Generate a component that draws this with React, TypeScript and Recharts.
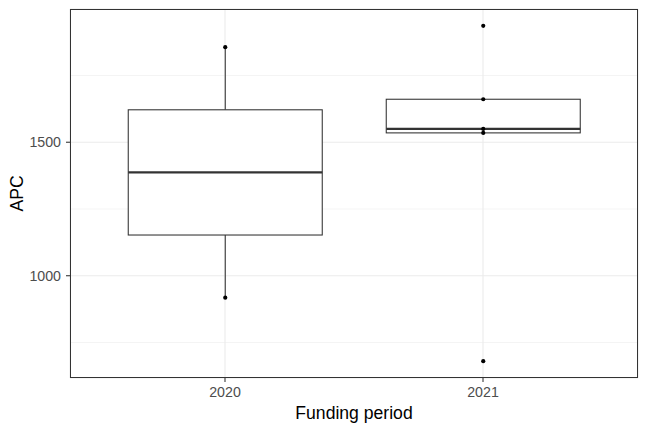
import React from 'react';
import { ComposedChart, Bar, XAxis, YAxis, CartesianGrid } from 'recharts';

const periods = ['2020', '2021'];
const apc2020 = [918, 1856];
const apc2021 = [680, 1535, 1550, 1661, 1936];
const yTicks = [1000, 1500];
const yMinor = [750, 1250, 1750];

const FONT = '"Liberation Sans", Arial, Helvetica, sans-serif';

function quantile(sorted: number[], p: number) {
  const h = (sorted.length - 1) * p;
  const lo = Math.floor(h);
  const hi = Math.ceil(h);
  return sorted[lo] + (h - lo) * (sorted[hi] - sorted[lo]);
}

function boxStats(period: string, values: number[]) {
  const s = [...values].sort((a, b) => a - b);
  const q1 = quantile(s, 0.25);
  const med = quantile(s, 0.5);
  const q3 = quantile(s, 0.75);
  const iqr = q3 - q1;
  const inside = s.filter((v) => v >= q1 - 1.5 * iqr && v <= q3 + 1.5 * iqr);
  return {
    period,
    q1,
    med,
    q3,
    wLo: Math.min(...inside),
    wHi: Math.max(...inside),
    lo: s[0],
    hi: s[s.length - 1],
    points: s,
    range: [s[0], s[s.length - 1]],
  };
}

const data = [boxStats(periods[0], apc2020), boxStats(periods[1], apc2021)];

const BoxShape = (props: any) => {
  const { x, y, width, height, payload } = props;
  const top = Math.min(y, y + height);
  const bottom = Math.max(y, y + height);
  const { lo, hi } = payload;
  const py = (v: number) => bottom - ((v - lo) / (hi - lo)) * (bottom - top);
  const cx = x + width / 2;
  const stroke = '#333333';
  return (
    <g>
      <line x1={cx} x2={cx} y1={py(payload.wHi)} y2={py(payload.q3)} stroke={stroke} strokeWidth={1.07} />
      <line x1={cx} x2={cx} y1={py(payload.q1)} y2={py(payload.wLo)} stroke={stroke} strokeWidth={1.07} />
      <rect
        x={x}
        y={py(payload.q3)}
        width={width}
        height={py(payload.q1) - py(payload.q3)}
        fill="#FFFFFF"
        stroke={stroke}
        strokeWidth={1.07}
      />
      <line x1={x} x2={x + width} y1={py(payload.med)} y2={py(payload.med)} stroke={stroke} strokeWidth={2.1} />
      {payload.points.map((v: number, i: number) => (
        <circle key={i} cx={cx} cy={py(v)} r={2.1} fill="#000000" />
      ))}
    </g>
  );
};

export default function App() {
  return (
    <div style={{ position: 'absolute', left: 0, top: 0, width: 648, height: 432, background: '#FFFFFF' }}>
      <ComposedChart
        width={648}
        height={432}
        data={data}
        margin={{ top: 9, right: 10, bottom: 0, left: 0 }}
        barCategoryGap="12.5%"
      >
        <CartesianGrid
          horizontalValues={yMinor}
          vertical={false}
          stroke="#EBEBEB"
          strokeWidth={0.55}
        />
        <CartesianGrid stroke="#EBEBEB" strokeWidth={1.07} />
        <XAxis
          dataKey="period"
          type="category"
          padding={{ left: 26, right: 26 }}
          height={54}
          axisLine={false}
          tickLine={{ stroke: '#333333', strokeWidth: 1.07 }}
          tickSize={4}
          tickMargin={5}
          tick={{ fill: '#4D4D4D', fontSize: 14.2, fontFamily: FONT }}
          label={{
            value: 'Funding period',
            position: 'insideBottom',
            offset: 12.7,
            style: { fill: '#000000', fontSize: 17.6, fontFamily: FONT },
          }}
        />
        <YAxis
          type="number"
          domain={[617, 1999]}
          ticks={yTicks}
          allowDataOverflow
          width={70}
          axisLine={false}
          tickLine={{ stroke: '#333333', strokeWidth: 1.07 }}
          tickSize={4}
          tickMargin={5}
          tick={{ fill: '#4D4D4D', fontSize: 14.2, fontFamily: FONT }}
          label={{
            value: 'APC',
            angle: -90,
            position: 'insideLeft',
            offset: 17,
            style: { fill: '#000000', fontSize: 17.6, fontFamily: FONT, textAnchor: 'middle' },
          }}
        />
        <Bar dataKey="range" shape={BoxShape} isAnimationActive={false} />
      </ComposedChart>
      <div
        style={{
          position: 'absolute',
          left: 70,
          top: 9,
          width: 568,
          height: 369,
          border: '1px solid #333333',
          boxSizing: 'border-box',
          pointerEvents: 'none',
        }}
      />
    </div>
  );
}
